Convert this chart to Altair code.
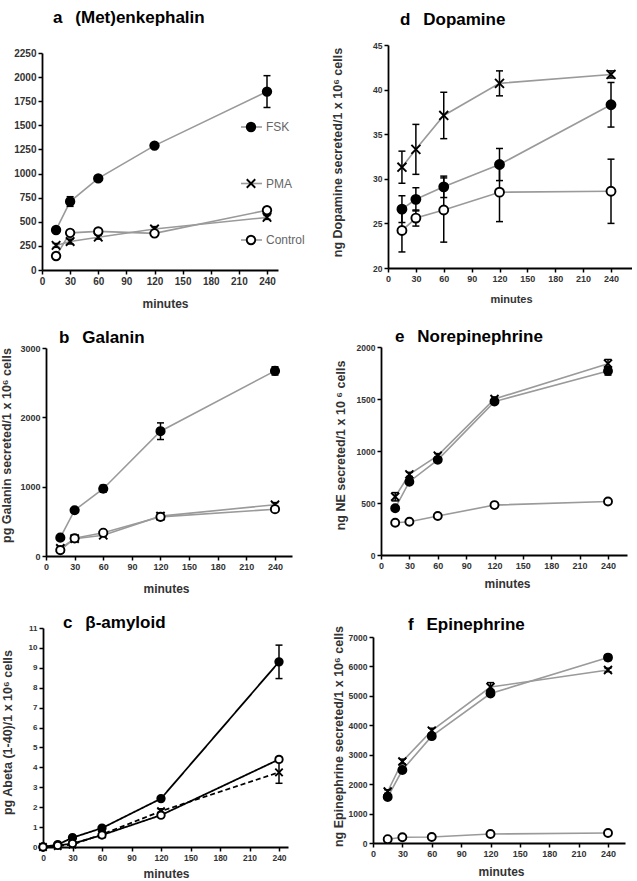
import altair as alt
import pandas as pd

FONT = "Liberation Sans"
SERIES = ["FSK", "PMA", "Control"]
T = [15, 30, 60, 120, 240]
T_C = [0, 15, 30, 60, 120, 240]
X_TICKS = [0, 30, 60, 90, 120, 150, 180, 210, 240]

# ---- a (Met)enkephalin
A_VAL = {"FSK": [415, 710, 950, 1290, 1850],
         "PMA": [255, 295, 340, 425, 545],
         "Control": [145, 385, 400, 380, 620]}
A_ERR = {"FSK": [20, 50, 25, 25, 165],
         "PMA": [20, 25, 20, 25, 20],
         "Control": [20, 25, 20, 20, 25]}
A_YTICKS = [0, 250, 500, 750, 1000, 1250, 1500, 1750, 2000, 2250]

# ---- b Galanin
B_VAL = {"FSK": [265, 660, 970, 1800, 2670],
         "PMA": [110, 250, 300, 575, 740],
         "Control": [85, 255, 335, 565, 675]}
B_ERR = {"FSK": [30, 30, 50, 120, 60],
         "PMA": [20, 20, 20, 30, 30],
         "Control": [20, 20, 20, 30, 30]}
B_YTICKS = [0, 1000, 2000, 3000]

# ---- c beta-amyloid
C_VAL = {"FSK": [0, 0.12, 0.47, 0.95, 2.43, 9.3],
         "PMA": [0, 0.05, 0.12, 0.63, 1.8, 3.75],
         "Control": [0, 0.08, 0.17, 0.6, 1.6, 4.4]}
C_ERR = {"FSK": [0, 0, 0, 0, 0.05, 0.84],
         "PMA": [0, 0, 0, 0, 0.12, 0.55],
         "Control": [0, 0, 0, 0, 0.05, 0.1]}
C_YTICKS = list(range(0, 12))

# ---- d Dopamine
D_VAL = {"FSK": [26.6, 27.7, 29.1, 31.6, 38.3],
         "PMA": [31.3, 33.3, 37.1, 40.7, 41.7],
         "Control": [24.2, 25.6, 26.5, 28.5, 28.6]}
D_ERR = {"FSK": [1.5, 1.3, 1.2, 1.8, 2.5],
         "PMA": [1.8, 2.8, 2.6, 1.4, 0.4],
         "Control": [2.4, 0.9, 3.6, 3.3, 3.6]}
D_YTICKS = [20, 25, 30, 35, 40, 45]

# ---- e Norepinephrine
E_VAL = {"FSK": [450, 705, 915, 1475, 1770],
         "PMA": [560, 775, 955, 1500, 1840],
         "Control": [310, 320, 375, 480, 515]}
E_ERR = {"FSK": [20, 20, 20, 20, 40],
         "PMA": [40, 20, 20, 20, 40],
         "Control": [10, 10, 10, 10, 10]}
E_YTICKS = [0, 500, 1000, 1500, 2000]

# ---- f Epinephrine
F_VAL = {"FSK": [1560, 2480, 3630, 5080, 6300],
         "PMA": [1750, 2770, 3820, 5300, 5880],
         "Control": [130, 195, 205, 305, 340]}
F_ERR = {"FSK": [60, 80, 60, 60, 100],
         "PMA": [60, 80, 80, 150, 60],
         "Control": [20, 20, 20, 20, 20]}
F_YTICKS = [0, 1000, 2000, 3000, 4000, 5000, 6000, 7000]

XPATH = "M-1,-1L1,1M-1,1L1,-1"
SHAPE_SCALE = alt.Scale(domain=SERIES, range=["circle", XPATH, "circle"])
FILL_SCALE = alt.Scale(domain=SERIES, range=["black", "transparent", "white"])
ONE = pd.DataFrame({"k": [0]})


def make_df(times, vals, errs):
    rows = []
    for s in SERIES:
        for t, v, e in zip(times, vals[s], errs[s]):
            rows.append({"series": s, "t": t, "v": v, "lo": v - e, "hi": v + e, "err": e})
    return pd.DataFrame(rows)


def panel(df, title, ytitle, ydom, yticks, cell, box, x240, t_dx, t_above,
          yt_x, yt_y, xt_x, xt_y, xlab_fs, ylab_fs, xt_fs=12, mk=64,
          line_color="#9a9a9a", line_w=1.6, dashed=False, legend=False):
    cw, ch = cell
    dx, dy, w, h = box
    xmax = 240.0 * w / x240
    xaxis = alt.Axis(values=X_TICKS, format="d", title="minutes", offset=-(ch - dy - h),
                     titleX=dx + xt_x, titleY=xt_y,
                     titleBaseline="middle", titleAlign="center",
                     titleFontSize=xt_fs, titleFontWeight="bold",
                     labelFontSize=xlab_fs)
    yaxis = alt.Axis(values=yticks, format="d", title=ytitle, offset=-dx,
                     titleX=yt_x, titleY=dy + yt_y,
                     titleAngle=270, titleBaseline="middle", titleAlign="center",
                     titleFontSize=12.5, titleFontWeight="bold",
                     labelFontSize=ylab_fs)
    xs = alt.Scale(domain=[0, xmax], range=[dx, dx + w], nice=False, zero=True)
    ys = alt.Scale(domain=ydom, range=[dy + h, dy], nice=False, zero=False)

    def X(f):
        return alt.X(f + ":Q", scale=xs, axis=xaxis)

    def Y(f):
        return alt.Y(f + ":Q", scale=ys, axis=yaxis)

    base = alt.Chart(df)
    if dashed:
        line = base.mark_line(color=line_color, strokeWidth=line_w).encode(
            x=X("t"), y=Y("v"),
            strokeDash=alt.StrokeDash("series:N", scale=alt.Scale(domain=SERIES, range=[[1, 0], [5, 3], [1, 0]]), legend=None))
    else:
        line = base.mark_line(color=line_color, strokeWidth=line_w).encode(
            x=X("t"), y=Y("v"), detail="series:N")
    err = base.transform_filter("datum.err > 0").mark_rule(color="black", strokeWidth=1.5).encode(
        x=X("t"), y=Y("lo"), y2="hi:Q")
    caps = base.transform_filter("datum.err > 0").transform_fold(["lo", "hi"], as_=["which", "cv"]).mark_point(
        shape="stroke", size=49, strokeWidth=1.5, color="black", opacity=1).encode(x=X("t"), y=Y("cv"))
    pts = base.mark_point(size=mk, strokeWidth=1.9, opacity=1).encode(
        x=X("t"), y=Y("v"),
        shape=alt.Shape("series:N", scale=SHAPE_SCALE, legend=None),
        fill=alt.Fill("series:N", scale=FILL_SCALE, legend=None),
        stroke=alt.value("black"))
    ttl = alt.Chart(ONE).mark_text(align="left", baseline="alphabetic", fontSize=17, fontWeight="bold",
                                   font=FONT, color="black", text=title).encode(
        x=alt.value(dx + t_dx), y=alt.value(dy - t_above))
    inner = alt.layer(line, err, caps, pts, ttl)
    if legend:
        LEG = pd.DataFrame({"series": SERIES})
        ly = alt.Y("series:N", scale=alt.Scale(type="point", domain=SERIES, range=[dy + 74, dy + 187], padding=0),
                   axis=None)
        leg_line = alt.Chart(LEG).mark_rule(color=line_color, strokeWidth=1.6).encode(
            x=alt.value(dx + 199), x2=alt.value(dx + 220), y=ly)
        leg_pts = alt.Chart(LEG).mark_point(size=mk, strokeWidth=1.9, opacity=1).encode(
            x=alt.value(dx + 209), y=ly,
            shape=alt.Shape("series:N", scale=SHAPE_SCALE, legend=None),
            fill=alt.Fill("series:N", scale=FILL_SCALE, legend=None),
            stroke=alt.value("black"))
        leg_txt = alt.Chart(LEG).mark_text(align="left", baseline="middle", fontSize=12, color="#666",
                                           font=FONT).encode(x=alt.value(dx + 224), y=ly, text="series:N")
        inner = alt.layer(inner, leg_line, leg_pts, leg_txt).resolve_scale(y="independent")
    return inner.properties(width=cw, height=ch)


NB = "\u00a0\u00a0\u2009"
COL_W = [331, 259]
ROW_H = [302, 281, 219]

pa = panel(make_df(T, A_VAL, A_ERR), "a" + NB + "(Met)enkephalin", "", [0, 2250], A_YTICKS,
           (COL_W[0], ROW_H[0]), (0, 8, 236, 217), 225, 11, 30, -40, 108, 123, 33, 10, 10, mk=72, legend=True)
pd_ = panel(make_df(T, D_VAL, D_ERR), "d" + NB + "Dopamine", "ng Dopamine secreted/1 x 10\u2076 cells",
            [20, 45], D_YTICKS, (COL_W[1], ROW_H[0]), (15, 0, 244, 223), 223, 12, 20, -51, 107, 123, 31,
            9, 8.5, xt_fs=11, mk=80)
pb = panel(make_df(T, B_VAL, B_ERR), "b" + NB + "Galanin", "pg Galanin secreted/1 x 10\u2076 cells",
           [0, 3000], B_YTICKS, (COL_W[0], ROW_H[1]), (4, 1, 246, 208), 229, 13, 5, -39.5, 97, 120, 32, 9, 9,
           mk=68)
pe = panel(make_df(T, E_VAL, E_ERR), "e" + NB + "Norepinephrine", "ng NE secreted/1 x 10 \u2076 cells",
           [0, 2000], E_YTICKS, (COL_W[1], ROW_H[1]), (8, 0, 246, 208), 227, 14, 5, -41, 98, 126, 28, 9, 8.5,
           mk=64)
pc = panel(make_df(T_C, C_VAL, C_ERR), "c" + NB + "\u03b2-amyloid", "pg Abeta (1-40)/1 x 10\u2076 cells",
           [0, 11], C_YTICKS, (COL_W[0], ROW_H[2]), (1, 0, 245, 219), 236, 20, 0, -36, 104, 123, 26, 8.5, 8,
           mk=55, line_color="black", line_w=1.8, dashed=True)
pf = panel(make_df(T, F_VAL, F_ERR), "f" + NB + "Epinephrine", "ng Epinephrine secreted/1 x 10\u2076 cells",
           [0, 7000], F_YTICKS, (COL_W[1], ROW_H[2]), (0, 9, 252, 206), 235, 35, 7, -35, 99, 128, 28, 9, 8.5,
           mk=64)

chart = alt.concat(pa, pd_, pb, pe, pc, pf, columns=2, spacing=0, bounds="flush").properties(
    padding={"left": 0, "top": 9, "right": 0, "bottom": 0}
).configure_view(stroke=None).configure_axis(
    grid=False, domainColor="black", domainWidth=1.8, tickColor="black", tickWidth=1.5, tickSize=4,
    labelFont=FONT, titleFont=FONT, labelColor="#333", labelFontWeight="bold", titleColor="#333",
    labelPadding=2, labelOverlap=False, labelFlush=False
)

chart.save("out.html", embed_options={"renderer": "svg", "actions": False})
